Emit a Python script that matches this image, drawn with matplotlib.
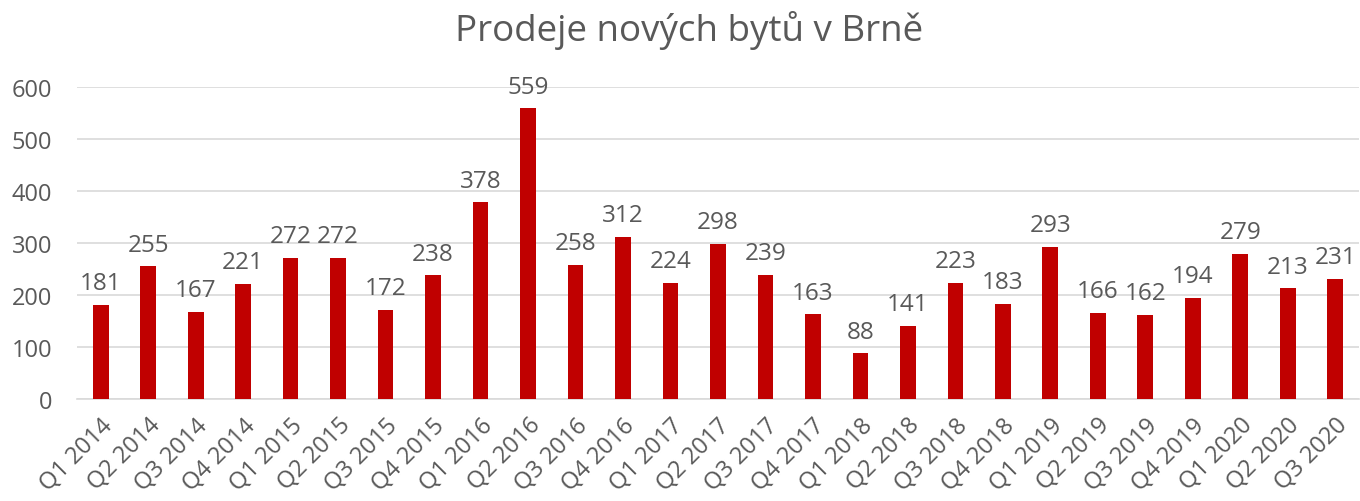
import numpy as np
import matplotlib.pyplot as plt

# quarters and number of new flats sold in Brno
kvartaly = ['Q1 2014', 'Q2 2014', 'Q3 2014', 'Q4 2014',
            'Q1 2015', 'Q2 2015', 'Q3 2015', 'Q4 2015',
            'Q1 2016', 'Q2 2016', 'Q3 2016', 'Q4 2016',
            'Q1 2017', 'Q2 2017', 'Q3 2017', 'Q4 2017',
            'Q1 2018', 'Q2 2018', 'Q3 2018', 'Q4 2018',
            'Q1 2019', 'Q2 2019', 'Q3 2019', 'Q4 2019',
            'Q1 2020', 'Q2 2020', 'Q3 2020']
prodeje = [181, 255, 167, 221, 272, 272, 172, 238, 378, 559, 258, 312, 224, 298,
           239, 163, 88, 141, 223, 183, 293, 166, 162, 194, 279, 213, 231]
yticks = [0, 100, 200, 300, 400, 500, 600]

plt.rcParams['font.family'] = ['Open Sans', 'DejaVu Sans']
text_col = '#595959'

fig = plt.figure(figsize=(13.6, 5.02), dpi=100)
ax = fig.add_axes([0.0566, 0.2032, 0.9426, 0.6215])

x = np.arange(len(kvartaly))
bars = ax.bar(x, prodeje, width=0.33, color='#C00000', zorder=3)

for xi, v in zip(x, prodeje):
    ax.annotate(str(v), (xi, v), xytext=(0, 7), textcoords='offset points',
                ha='center', va='bottom', fontsize=17.5, color=text_col)

ax.set_xlim(-0.5, len(kvartaly) - 0.5)
ax.set_ylim(0, 600)
ax.set_yticks(yticks)
ax.set_yticklabels([str(t) for t in yticks], fontsize=17, color=text_col)
ax.set_xticks(x)
ax.set_xticklabels(kvartaly, rotation=45, ha='right', rotation_mode='anchor',
                   fontsize=17, color=text_col)
ax.tick_params(axis='both', length=0)
ax.tick_params(axis='y', pad=18)
ax.tick_params(axis='x', pad=10)

ax.grid(axis='y', color='#d9d9d9', linewidth=1.2, zorder=0)
for s in ['top', 'right', 'left']:
    ax.spines[s].set_visible(False)
ax.spines['bottom'].set_color('#d9d9d9')
ax.spines['bottom'].set_linewidth(1.2)

fig.text(0.507, 0.94, 'Prodeje nových bytů v Brně', ha='center', va='center',
         fontsize=26.5, color=text_col)

plt.savefig('out.png')
